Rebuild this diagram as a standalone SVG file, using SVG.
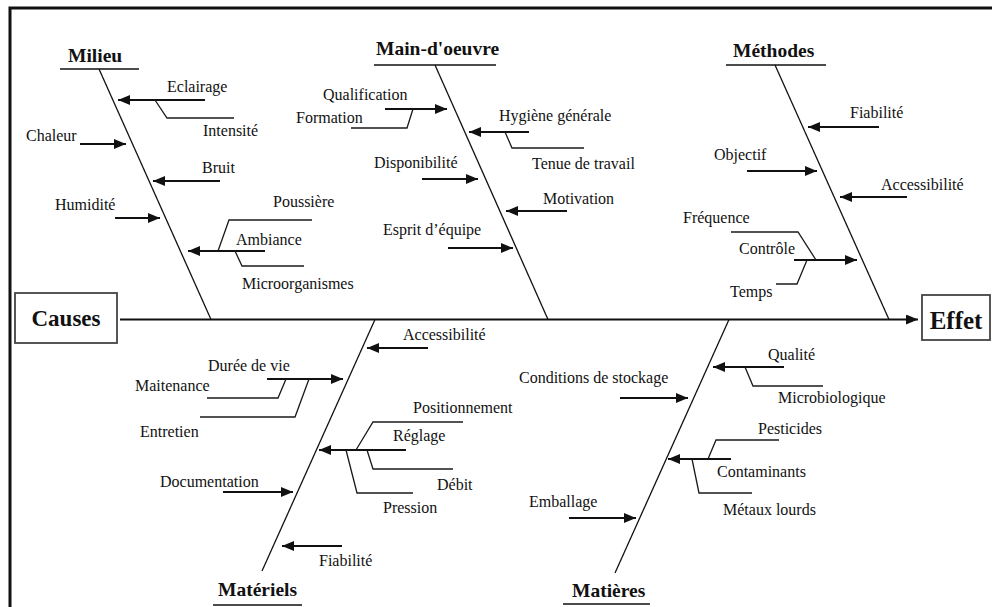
<svg xmlns="http://www.w3.org/2000/svg" width="992" height="607" viewBox="0 0 992 607">
  <style>
    .t { font-family: "Liberation Serif", "Times New Roman", serif; font-size: 16px; fill: #111; }
    .h { font-family: "Liberation Serif", "Times New Roman", serif; font-size: 19.5px; font-weight: bold; fill: #111; }
    .big { font-family: "Liberation Serif", "Times New Roman", serif; font-weight: bold; fill: #111; text-anchor: middle; }
    .bone { stroke: #111; stroke-width: 1.3; fill: none; }
    .ul { stroke: #111; stroke-width: 1.6; fill: none; }
    .br { stroke: #1a1a1a; stroke-width: 1.3; fill: none; }
    .arr { stroke: #111; stroke-width: 2; fill: none; marker-end: url(#ah); }
    .box { fill: #fff; stroke: #444; stroke-width: 1.8; }
  </style>
  <defs>
    <marker id="ah" markerUnits="userSpaceOnUse" markerWidth="12" markerHeight="10" viewBox="0 0 12 10" refX="12" refY="5" orient="auto">
      <path d="M0,0 L12,5 L0,10 z" fill="#111"/>
    </marker>
  </defs>

  <rect width="992" height="607" fill="#fff"/>
  <!-- outer frame (open to the right and bottom) -->
  <path d="M10,607 V8 H992" fill="none" stroke="#111" stroke-width="3"/>

  <!-- spine and category bones -->
  <g id="connectors">
    <line class="arr" x1="120" y1="319.5" x2="918" y2="319.5"/>
    <line class="bone" x1="99" y1="69" x2="211" y2="319.5"/>
    <line class="bone" x1="435" y1="65" x2="548" y2="319.5"/>
    <line class="bone" x1="775" y1="65" x2="889" y2="319.5"/>
    <line class="bone" x1="375" y1="319.5" x2="262" y2="571"/>
    <line class="bone" x1="729" y1="319.5" x2="615" y2="573"/>
  </g>

  <g id="causes">
    <rect class="box" x="15" y="293" width="102" height="50"/>
    <text class="big" x="66" y="326" font-size="23">Causes</text>
  </g>

  <g id="effet">
    <rect class="box" x="922" y="295" width="68" height="45"/>
    <text class="big" x="956" y="329" font-size="25">Effet</text>
  </g>

  <g id="milieu">
    <text class="h" x="68" y="62">Milieu</text>
    <line class="ul" x1="60" y1="69" x2="139" y2="69"/>
    <text class="t" x="167" y="92">Eclairage</text>
    <line class="arr" x1="205" y1="100" x2="118" y2="100"/>
    <polyline class="br" points="155,100 167,118 234,118"/>
    <text class="t" x="203" y="136">Intensité</text>
    <text class="t" x="26" y="141">Chaleur</text>
    <line class="arr" x1="80" y1="144" x2="126" y2="144"/>
    <text class="t" x="202" y="173">Bruit</text>
    <line class="arr" x1="220" y1="181" x2="153" y2="181"/>
    <text class="t" x="55" y="210">Humidité</text>
    <line class="arr" x1="115" y1="218" x2="160" y2="218"/>
    <text class="t" x="273" y="207">Poussière</text>
    <polyline class="br" points="218,251 229,220 312,220"/>
    <text class="t" x="236" y="245">Ambiance</text>
    <line class="arr" x1="265" y1="251" x2="188" y2="251"/>
    <polyline class="br" points="235,251 242,266 304,266"/>
    <text class="t" x="242" y="289">Microorganismes</text>
  </g>

  <g id="main-oeuvre">
    <text class="h" x="376" y="55">Main-d'oeuvre</text>
    <line class="ul" x1="374" y1="65" x2="496" y2="65"/>
    <text class="t" x="323" y="100">Qualification</text>
    <line class="arr" x1="385" y1="109" x2="447" y2="109"/>
    <polyline class="br" points="413,109 407,128 351,128"/>
    <text class="t" x="296" y="123">Formation</text>
    <text class="t" x="499" y="121">Hygiène générale</text>
    <line class="arr" x1="529" y1="132" x2="469" y2="132"/>
    <polyline class="br" points="505,132 512,148 584,148"/>
    <text class="t" x="532" y="169">Tenue de travail</text>
    <text class="t" x="374" y="168">Disponibilité</text>
    <line class="arr" x1="422" y1="179" x2="478" y2="179"/>
    <text class="t" x="543" y="204">Motivation</text>
    <line class="arr" x1="567" y1="211" x2="506" y2="211"/>
    <text class="t" x="383" y="235">Esprit d’équipe</text>
    <line class="arr" x1="448" y1="248" x2="513" y2="248"/>
  </g>

  <g id="methodes">
    <text class="h" x="733" y="57">Méthodes</text>
    <line class="ul" x1="726" y1="65" x2="826" y2="65"/>
    <text class="t" x="850" y="118">Fiabilité</text>
    <line class="arr" x1="879" y1="127" x2="808" y2="127"/>
    <text class="t" x="714" y="160">Objectif</text>
    <line class="arr" x1="747" y1="171" x2="817" y2="171"/>
    <text class="t" x="881" y="190">Accessibilité</text>
    <line class="arr" x1="907" y1="197" x2="840" y2="197"/>
    <text class="t" x="683" y="223">Fréquence</text>
    <polyline class="br" points="816,260 798,232 731,232"/>
    <text class="t" x="739" y="254">Contrôle</text>
    <line class="arr" x1="794" y1="260" x2="857" y2="260"/>
    <polyline class="br" points="807,260 797,284 776,284"/>
    <text class="t" x="730" y="297">Temps</text>
  </g>

  <g id="materiels">
    <text class="t" x="403" y="340">Accessibilité</text>
    <line class="arr" x1="428" y1="348" x2="367" y2="348"/>
    <text class="t" x="208" y="371">Durée de vie</text>
    <line class="arr" x1="267" y1="379" x2="343" y2="379"/>
    <polyline class="br" points="286,379 278,398 207,398"/>
    <text class="t" x="135" y="391">Maitenance</text>
    <polyline class="br" points="309,379 295,417 200,417"/>
    <text class="t" x="140" y="437">Entretien</text>
    <text class="t" x="413" y="413">Positionnement</text>
    <polyline class="br" points="356,450 373,422 463,422"/>
    <text class="t" x="393" y="441">Réglage</text>
    <line class="arr" x1="406" y1="450" x2="319" y2="450"/>
    <polyline class="br" points="367,450 373,469 453,469"/>
    <text class="t" x="437" y="490">Débit</text>
    <polyline class="br" points="346,450 357,493 413,493"/>
    <text class="t" x="383" y="513">Pression</text>
    <text class="t" x="160" y="487">Documentation</text>
    <line class="arr" x1="223" y1="492" x2="293" y2="492"/>
    <line class="arr" x1="342" y1="546" x2="282" y2="546"/>
    <text class="t" x="319" y="566">Fiabilité</text>
    <text class="h" x="218" y="596">Matériels</text>
    <line class="ul" x1="213" y1="605" x2="302" y2="605"/>
  </g>

  <g id="matieres">
    <text class="t" x="768" y="360">Qualité</text>
    <line class="arr" x1="784" y1="367" x2="713" y2="367"/>
    <polyline class="br" points="745,367 753,386 823,386"/>
    <text class="t" x="778" y="403">Microbiologique</text>
    <text class="t" x="519" y="383">Conditions de stockage</text>
    <line class="arr" x1="620" y1="398" x2="688" y2="398"/>
    <text class="t" x="758" y="434">Pesticides</text>
    <polyline class="br" points="708,459 716,440 779,440"/>
    <text class="t" x="717" y="477">Contaminants</text>
    <line class="arr" x1="731" y1="459" x2="668" y2="459"/>
    <polyline class="br" points="692,459 699,493 752,493"/>
    <text class="t" x="723" y="515">Métaux lourds</text>
    <text class="t" x="529" y="507">Emballage</text>
    <line class="arr" x1="569" y1="518" x2="636" y2="518"/>
    <text class="h" x="572" y="597">Matières</text>
    <line class="ul" x1="563" y1="604" x2="650" y2="604"/>
  </g>
</svg>
